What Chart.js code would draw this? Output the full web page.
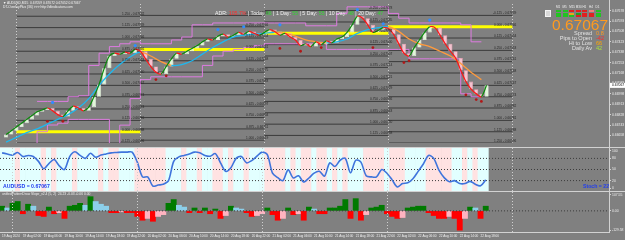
<!DOCTYPE html>
<html>
<head>
<meta charset="utf-8">
<title>AUDUSD M15</title>
<script src="https://cdn.jsdelivr.net/npm/chart.js@4.4.1/dist/chart.umd.min.js"></script>
<style>
  html, body { margin: 0; padding: 0; }
  body { width: 625px; height: 240px; background: #808080; position: relative; overflow: hidden;
         font-family: "Liberation Sans", Arial, sans-serif; }
  canvas { position: absolute; left: 0; }
  .t { position: absolute; white-space: nowrap; line-height: 1; }
  .sep { position: absolute; background: #d2d2d2; }
  .box { position: absolute; width: 5px; height: 2px; }
</style>
</head>
<body>
<canvas id="main" width="625" height="147" style="top:0"></canvas>
<canvas id="stoch" width="625" height="43" style="top:148px"></canvas>
<canvas id="hist" width="625" height="48" style="top:192px"></canvas>
<div class="sep" style="left:0;top:147px;width:625px;height:1px"></div>
<div class="sep" style="left:0;top:191px;width:625px;height:1px"></div>
<div class="sep" style="left:0;top:232px;width:610px;height:1px"></div>
<div class="sep" style="left:609px;top:0;width:1px;height:233px"></div>

<div class="t" style="left:3px;top:2px;font-size:3.3px;color:#f2f2f2">&#9660; AUDUSD,M15&nbsp; 0.67059 0.67072 0.67052 0.67067</div>
<div class="t" style="left:3px;top:6px;font-size:3.3px;color:#f2f2f2">DT-OverlayPlus (36) &gt;&gt;&gt; http://dtindicators.com</div>

<div class="t" style="left:215px;top:11px;font-size:5.2px;color:#f4f4f4">ADR: <span style="color:#ff2b2b">105.7%</span> | Today <span style="color:#2fd62f">66</span> | 1 Day: <span style="color:#2fd62f">55</span> | 5 Day: <span style="color:#2fd62f">55</span> | 10 Day: <span style="color:#2fd62f">48</span> | 20 Day: <span style="color:#2fd62f">47</span></div>

<div id="tfPanel"></div>
<div class="t" style="left:552px;top:17px;font-size:15.5px;color:#ff9a1f">0.67067</div>
<div class="t" style="right:33px;top:31px;font-size:5.6px;color:#e2e2e2;text-align:right;line-height:5px">Spread<br>Pips to Open<br>Hi to Low<br>Daily Av</div>
<div class="t" style="left:596px;top:31px;font-size:5.6px;line-height:5px"><span style="color:#ff9a1f">0.8</span><br><span style="color:#ff2a2a">-42</span><br><span style="color:#ffa500">66</span><br><span style="color:#a8e03a">42</span></div>

<div class="t" style="left:3px;top:184px;font-size:5.2px;font-weight:bold;color:#1f3cf0">AUDUSD = 0.67067</div>
<div class="t" style="left:583px;top:184px;font-size:5.2px;font-weight:bold;color:#1f3cf0">Stoch = 22</div>
<div class="t" style="left:2px;top:193px;font-size:3.3px;color:#ededed">unifiedPatternDraw Slope_v2.4 (5, 2)&nbsp; 24.23 -0.03 -0.06 0.00</div>

<script>
// time axis (one slot per hour)
const timeLabels = [
  '19 Aug 2024', '19 Aug 02:00', '19 Aug 06:00', '19 Aug 10:00', '19 Aug 14:00', '19 Aug 18:00',
  '19 Aug 22:00', '20 Aug 02:00', '20 Aug 06:00', '20 Aug 10:00', '20 Aug 14:00', '20 Aug 18:00',
  '20 Aug 22:00', '21 Aug 02:00', '21 Aug 06:00', '21 Aug 10:00', '21 Aug 14:00', '21 Aug 18:00',
  '21 Aug 22:00', '22 Aug 02:00', '22 Aug 06:00', '22 Aug 10:00', '22 Aug 14:00', '22 Aug 18:00'
];
const timeTickSlots = [0, 4, 8, 12, 16, 20, 24, 28, 32, 36, 40, 44, 48, 52, 56, 60, 64, 68, 72, 76, 80, 84, 88, 92];
const daySlots = [2, 26, 50, 74, 98];
const slotMin = -0.4;
const slotMax = 116.7;

// price
const priceMin = 0.66596;
const priceMax = 0.67732;
const priceTicks = [0.67678, 0.67593, 0.67508, 0.67423, 0.67338, 0.67253, 0.67168, 0.67083,
                    0.66998, 0.66913, 0.66828, 0.66743, 0.66658];
const firstOpen = 0.66640;
const closes = [
  0.66665, 0.66696, 0.66727, 0.66758, 0.66789, 0.66820, 0.66851, 0.66866, 0.66882, 0.66859,
  0.66828, 0.66812, 0.66859, 0.66897, 0.66882, 0.66859, 0.66889, 0.66974, 0.67075, 0.67206,
  0.67307, 0.67330, 0.67322, 0.67338, 0.67330, 0.67361, 0.67346, 0.67284, 0.67222, 0.67175,
  0.67160, 0.67222, 0.67284, 0.67330, 0.67322, 0.67346, 0.67369, 0.67392, 0.67423, 0.67446,
  0.67438, 0.67469, 0.67485, 0.67462, 0.67477, 0.67500, 0.67485, 0.67508, 0.67492, 0.67477,
  0.67500, 0.67523, 0.67508, 0.67477, 0.67492, 0.67462, 0.67438, 0.67392, 0.67407, 0.67384,
  0.67423, 0.67400, 0.67431, 0.67415, 0.67446, 0.67462, 0.67500, 0.67562, 0.67632, 0.67616,
  0.67562, 0.67500, 0.67516, 0.67539, 0.67531, 0.67485, 0.67407, 0.67330, 0.67307, 0.67376,
  0.67438, 0.67500, 0.67546, 0.67539, 0.67477, 0.67407, 0.67346, 0.67291, 0.67191, 0.67098,
  0.67036, 0.66998, 0.66974, 0.67067
];

// slow average, every second slot
const slowMa = [
  0.66603, 0.66642, 0.66681, 0.66712, 0.66750, 0.66789, 0.66828, 0.66882, 0.66959, 0.67067,
  0.67160, 0.67237, 0.67299, 0.67338, 0.67307, 0.67261, 0.67230, 0.67237, 0.67268, 0.67322,
  0.67376, 0.67423, 0.67462, 0.67477, 0.67485, 0.67492, 0.67500, 0.67492, 0.67469, 0.67438,
  0.67423, 0.67415, 0.67423, 0.67446, 0.67492, 0.67523, 0.67539, 0.67546, 0.67508, 0.67446,
  0.67407, 0.67384, 0.67346, 0.67307, 0.67245, 0.67175, 0.67114
];

// channel, every second slot
const bandUpper = [
  null, null, null, 0.66936, 0.66936, 0.66936, 0.66936, 0.66974, 0.66982, 0.67230,
  0.67330, 0.67384, 0.67407, 0.67423, 0.67407, 0.67407, 0.67407, 0.67438, 0.67462, 0.67562,
  0.67562, 0.67577, 0.67577, 0.67577, 0.67577, 0.67577, 0.67577, 0.67577, 0.67577, 0.67577,
  0.67554, 0.67554, 0.67554, 0.67655, 0.67709, 0.67709, 0.67709, 0.67709, 0.67655, 0.67616,
  0.67577, 0.67577, 0.67577, 0.67577, 0.67577, 0.67562, 0.67423
];
const bandLower = [
  null, null, null, 0.66588, 0.66688, 0.66743, 0.66758, 0.66789, 0.66789, 0.66789,
  0.66789, 0.66588, 0.66742, 0.66959, 0.67114, 0.67137, 0.67137, 0.67137, 0.67137, 0.67137,
  0.67230, 0.67307, 0.67346, 0.67361, 0.67376, 0.67392, 0.67407, 0.67407, 0.67407, 0.67407,
  0.67407, 0.67407, 0.67361, 0.67361, 0.67361, 0.67361, 0.67361, 0.67361, 0.67361, 0.67361,
  0.67284, 0.67284, 0.67284, 0.67284, 0.67284, 0.66998, 0.66974
];

// fractals
const upFractalSlots = [9, 25, 41, 46, 53, 68, 73, 82];
const upFractalPrices = [0.66928, 0.67392, 0.67523, 0.67546, 0.67562, 0.67686, 0.67570, 0.67601];
const downFractalSlots = [8, 11, 29, 31, 53, 57, 61, 71, 77, 78, 89, 91, 92];
const downFractalPrices = [0.66773, 0.66773, 0.67114, 0.67145, 0.67369, 0.67346, 0.67376, 0.67376,
                           0.67253, 0.67268, 0.66990, 0.66951, 0.66936];

// daily levels
const levelDayStart = [2, 26, 50, 74];
const levelDayEnd = [26, 50, 74, 98];
const levelRatios = [
  ['1.250', '1.125', '1.000', '0.875', '0.750', '0.625', '0.500', '0.375', '0.250', '0.125', '0.000', '-0.125'],
  ['-0.375', '-0.250', '-0.125', '0.000', '0.125', '0.250', '0.375', '0.500', '0.625', '0.750', '0.875', '1.000'],
  ['-0.250', '-0.125', '0.000', '0.125', '0.250', '0.375', '0.500', '0.625', '0.750', '0.875', '1.000', '1.125'],
  ['-0.125', '0.000', '0.125', '0.250', '0.375', '0.500', '0.625', '0.750', '0.875', '1.000', '1.125', '1.250']
];
const levelPrices = [
  [0.67632, 0.67539, 0.67446, 0.67346, 0.67253, 0.67160, 0.67067, 0.66974, 0.66874, 0.66781, 0.66688, 0.66596],
  [0.67639, 0.67546, 0.67454, 0.67361, 0.67268, 0.67175, 0.67083, 0.66990, 0.66897, 0.66804, 0.66711, 0.66619],
  [0.67678, 0.67585, 0.67492, 0.67400, 0.67307, 0.67214, 0.67121, 0.67029, 0.66936, 0.66843, 0.66750, 0.66658],
  [0.67639, 0.67546, 0.67454, 0.67353, 0.67261, 0.67168, 0.67067, 0.66974, 0.66882, 0.66781, 0.66688, 0.66596]
];

// stochastic
const stochMin = -8.1;
const stochMax = 108.1;
const stochTicks = [100, 80, 50, 20, 0];
const stochLevels = [80, 50, 20];
const stochValues = [
  95, 92, 89, 96, 85, 88, 85, 72, 52, 66,
  77, 60, 50, 85, 98, 88, 80, 94, 83, 89,
  92, 95, 96, 97, 97, 97, 70, 30, 30, 5,
  8, 10, 20, 72, 84, 88, 92, 97, 95, 88,
  86, 93, 68, 45, 55, 80, 85, 68, 74, 86,
  97, 90, 40, 28, 20, 49, 27, 33, 16, 27,
  40, 45, 32, 68, 58, 75, 80, 41, 75, 70,
  33, 30, 30, 50, 40, 22, 3, 12, 14, 25,
  45, 65, 88, 80, 48, 28, 17, 20, 12, 12,
  18, 10, 6, 22
];
const stochZone = [
  0, 0, 0, 1, 0, 0, 0, 0, 1, 0,
  1, 0, 0, 0, 1, 0, 0, 0, 0, 1,
  0, 1, 1, 0, 0, 0, 1, 1, 1, 1,
  1, 1, 0, 0, 0, 1, 0, 0, 1, 0,
  0, 1, 1, 0, 1, 0, 0, 1, 0, 0,
  0, 1, 1, 1, 1, 0, 1, 0, 1, 1,
  0, 1, 1, 0, 1, 0, 1, 0, 0, 0,
  1, 1, 1, 1, 0, 1, 1, 1, 0, 0,
  0, 0, 1, 1, 1, 1, 1, 0, 0, 1,
  0, 1, 0, 0
];

// histogram
const histMin = -140;
const histMax = 125;
const histTicks = [107.55, 0, -129.58];
const histValues = [
  31, 19, 50, 62, -19, 44, 31, -31, -37, 25,
  -19, -12, -50, 31, 37, 50, 37, 94, 62, 44,
  31, -12, -12, -6, -12, -12, -37, -62, -50, -69,
  -37, -25, 50, 75, 37, 25, -12, 19, -12, 19,
  -19, 12, -50, -31, 31, 19, 12, -12, -37, -31,
  -19, 19, -25, -62, -50, 19, -25, -19, -62, 25,
  12, -19, -19, 19, 19, 31, 75, -50, 81, -62,
  -25, 19, 25, 37, -19, -37, -50, -44, 19, 25,
  31, 31, -12, -31, -50, -50, -37, -50, -128, -50,
  25, 19, -50, 31
];

// timeframe panel
const tfNames = ['M1', 'M5', 'M15', 'M30', 'H1', 'H4', 'D1'];
const tfColors = [
  ['#22c322', '#22c322', '#22c322'],
  ['#22c322', '#22c322', '#22c322'],
  ['#e02020', '#f0a020', '#22c322'],
  ['#e02020', '#22a022', '#e02020'],
  ['#e02020', '#e02020', '#e02020'],
  ['#f08080', '#e02020', '#e02020'],
  ['#22c322', '#22c322', '#22c322']
];

const FONT = 'Liberation Sans';
const lastPrice = closes[closes.length - 1];

function buildTfPanel() {
  const panel = document.getElementById('tfPanel');
  const icon = document.createElement('div');
  icon.className = 'box';
  icon.style.cssText = 'left:545px;top:10px;width:6px;height:7px;background:#d8d8d8;border:1px solid #f4f4f4;box-sizing:border-box';
  panel.appendChild(icon);
  tfNames.forEach((name, i) => {
    const left = 556 + i * 6.6;
    const lbl = document.createElement('div');
    lbl.className = 't';
    lbl.style.cssText = `left:${left}px;top:6px;font-size:3px;color:#f0f0f0`;
    lbl.textContent = name;
    panel.appendChild(lbl);
    tfColors[i].forEach((c, r) => {
      const b = document.createElement('div');
      b.className = 'box';
      b.style.cssText = `left:${left}px;top:${10 + r * 2.5}px;background:${c}`;
      panel.appendChild(b);
    });
  });
}

function rightAxis(min, max, tickValues, fmt) {
  return {
    type: 'linear', position: 'right', min: min, max: max,
    afterBuildTicks: axis => { axis.ticks = tickValues.map(v => ({ value: v })); },
    afterFit: axis => { axis.width = 16; axis.paddingTop = 0; axis.paddingBottom = 0; },
    grid: { drawOnChartArea: false, drawTicks: true, tickLength: 2, color: '#d2d2d2' },
    border: { display: false },
    ticks: { color: '#ececec', font: { size: 3.4, family: FONT }, padding: 1, autoSkip: false, callback: fmt }
  };
}

function hiddenX() {
  return { type: 'linear', min: slotMin, max: slotMax, offset: false, display: false };
}

function daySeparators(phase) {
  const draw = chart => {
    const { ctx, chartArea, scales } = chart;
    ctx.save();
    ctx.strokeStyle = '#cfcfcf';
    ctx.lineWidth = 1;
    ctx.setLineDash([1, 2]);
    daySlots.forEach(s => {
      const x = Math.round(scales.x.getPixelForValue(s)) + 0.5;
      ctx.beginPath();
      ctx.moveTo(x, chartArea.top);
      ctx.lineTo(x, chartArea.bottom);
      ctx.stroke();
    });
    ctx.restore();
  };
  return phase === 'before' ? { id: 'daySep', beforeDatasetsDraw: draw } : { id: 'daySep', afterDatasetsDraw: draw };
}

const levelLabels = {
  id: 'levelLabels',
  afterDatasetsDraw(chart) {
    const { ctx, scales } = chart;
    ctx.save();
    ctx.font = `3.2px "${FONT}"`;
    ctx.fillStyle = '#262626';
    ctx.textAlign = 'right';
    ctx.textBaseline = 'bottom';
    levelPrices.forEach((prices, d) => {
      const x = scales.x.getPixelForValue(levelDayEnd[d]) + 4;
      prices.forEach((p, k) => {
        ctx.fillText(`${levelRatios[d][k]} - ${p.toFixed(5)}`, x, scales.y.getPixelForValue(p) - 0.5);
      });
    });
    ctx.restore();
  }
};

const priceTag = {
  id: 'priceTag',
  afterDraw(chart) {
    const { ctx, chartArea, scales } = chart;
    const y = scales.y.getPixelForValue(lastPrice);
    ctx.save();
    ctx.fillStyle = '#ffffff';
    ctx.fillRect(chartArea.right + 1, y - 2.5, 15, 5);
    ctx.fillStyle = '#000000';
    ctx.font = `3.4px "${FONT}"`;
    ctx.textBaseline = 'middle';
    ctx.fillText(lastPrice.toFixed(5), chartArea.right + 3, y);
    ctx.restore();
  }
};

const baseOptions = {
  responsive: false,
  animation: false,
  events: [],
  layout: { padding: 0 },
  plugins: { legend: { display: false }, tooltip: { enabled: false } }
};

function displayMainChart() {
  const datasets = [];

  levelPrices.forEach((prices, d) => {
    prices.forEach((p, k) => {
      const isBase = levelRatios[d][k] === '0.000';
      datasets.push({
        type: 'line',
        data: [{ x: levelDayStart[d], y: p }, { x: levelDayEnd[d], y: p }],
        borderColor: isBase ? '#ffff00' : '#3a3a3a',
        borderWidth: isBase ? 3 : 1,
        pointRadius: 0,
        order: isBase ? 9 : 10
      });
    });
  });

  datasets.push({
    type: 'line',
    data: bandUpper.map((v, i) => ({ x: i * 2, y: v })),
    borderColor: '#dd7be0', borderWidth: 1, pointRadius: 0, stepped: 'after', spanGaps: false, order: 6
  });
  datasets.push({
    type: 'line',
    data: bandLower.map((v, i) => ({ x: i * 2, y: v })),
    borderColor: '#dd7be0', borderWidth: 1, pointRadius: 0, stepped: 'after', spanGaps: false, order: 6
  });

  datasets.push({
    type: 'bar',
    data: closes.map((c, i) => ({ x: i, y: [i === 0 ? firstOpen : closes[i - 1], c] })),
    backgroundColor: closes.map((c, i) => c >= (i === 0 ? firstOpen : closes[i - 1]) ? '#e2f6da' : '#f4c2cf'),
    borderColor: closes.map((c, i) => c >= (i === 0 ? firstOpen : closes[i - 1]) ? '#f6fff2' : '#ff9db3'),
    borderWidth: 0.6,
    borderSkipped: false,
    barPercentage: 0.8,
    categoryPercentage: 1,
    grouped: false,
    order: 5
  });

  datasets.push({
    type: 'line',
    data: slowMa.map((v, i) => ({ x: i * 2, y: v })),
    borderWidth: 1.3, pointRadius: 0, tension: 0.3,
    segment: { borderColor: c => c.p1.parsed.y >= c.p0.parsed.y ? '#1cb8f0' : '#ff9a3c' },
    order: 4
  });

  datasets.push({
    type: 'line',
    data: closes.map((c, i) => ({ x: i, y: c })),
    borderWidth: 1.2, pointRadius: 0, tension: 0.3,
    segment: { borderColor: c => c.p1.parsed.y >= c.p0.parsed.y ? '#0a8a0a' : '#ff1414' },
    order: 3
  });

  datasets.push({
    type: 'scatter',
    data: upFractalSlots.map((s, i) => ({ x: s, y: upFractalPrices[i] })),
    backgroundColor: '#2f8cff', borderWidth: 0, pointRadius: 1.6, order: 1
  });
  datasets.push({
    type: 'scatter',
    data: downFractalSlots.map((s, i) => ({ x: s, y: downFractalPrices[i] })),
    backgroundColor: '#b01818', borderWidth: 0, pointRadius: 1.4, order: 1
  });

  new Chart(document.getElementById('main').getContext('2d'), {
    data: { datasets },
    options: {
      ...baseOptions,
      scales: {
        x: hiddenX(),
        y: rightAxis(priceMin, priceMax, priceTicks, v => v.toFixed(5))
      }
    },
    plugins: [daySeparators('before'), levelLabels, priceTag]
  });
}

function displayStochChart() {
  const datasets = [];
  datasets.push({
    type: 'line',
    data: stochValues.map((v, i) => ({ x: i, y: v })),
    borderColor: '#3f74dc', borderWidth: 1.6, pointRadius: 0, tension: 0.3, order: 1
  });
  stochLevels.forEach(l => {
    datasets.push({
      type: 'line',
      data: [{ x: slotMin, y: l }, { x: slotMax, y: l }],
      borderColor: '#3c3c3c', borderWidth: 1, borderDash: [1, 2], pointRadius: 0, order: 2
    });
  });
  datasets.push({
    type: 'bar',
    data: stochZone.map((z, i) => ({ x: i, y: [stochMin, stochMax] })),
    backgroundColor: stochZone.map(z => z ? '#ffe2e2' : '#e2ffff'),
    borderWidth: 0,
    barPercentage: 1,
    categoryPercentage: 1,
    grouped: false,
    order: 3
  });

  new Chart(document.getElementById('stoch').getContext('2d'), {
    data: { datasets },
    options: {
      ...baseOptions,
      scales: {
        x: hiddenX(),
        y: rightAxis(stochMin, stochMax, stochTicks, v => String(v))
      }
    },
    plugins: [daySeparators('after')]
  });
}

function displayHistChart() {
  const colors = histValues.map((v, i) => {
    const prev = i === 0 ? 0 : histValues[i - 1];
    if (v >= 0) return v >= prev ? '#007a00' : '#8ccfea';
    return v <= prev ? '#ff0000' : '#ffb3c0';
  });

  new Chart(document.getElementById('hist').getContext('2d'), {
    data: {
      datasets: [
        {
          type: 'line',
          data: [{ x: slotMin, y: 0 }, { x: slotMax, y: 0 }],
          borderColor: '#3c3c3c', borderWidth: 1, borderDash: [1, 2], pointRadius: 0, order: 1
        },
        {
          type: 'bar',
          data: histValues.map((v, i) => ({ x: i, y: v })),
          backgroundColor: colors,
          borderWidth: 0,
          barPercentage: 1,
          categoryPercentage: 1,
          grouped: false,
          order: 2
        }
      ]
    },
    options: {
      ...baseOptions,
      scales: {
        x: {
          type: 'linear', min: slotMin, max: slotMax, position: 'bottom', offset: false,
          afterBuildTicks: axis => { axis.ticks = timeTickSlots.map(v => ({ value: v })); },
          afterFit: axis => { axis.height = 8; axis.paddingLeft = 0; axis.paddingRight = 0; },
          grid: { display: true, drawOnChartArea: false, drawTicks: true, tickLength: 1, color: '#d2d2d2' },
          border: { display: false },
          ticks: {
            display: true,
            color: '#f0f0f0', font: { size: 3.1, family: FONT }, padding: 1.5, align: 'start',
            maxRotation: 0, minRotation: 0, autoSkip: false,
            callback: (v, i) => timeLabels[i]
          }
        },
        y: rightAxis(histMin, histMax, histTicks, v => v.toFixed(2))
      }
    },
    plugins: [daySeparators('after')]
  });
}

document.addEventListener('DOMContentLoaded', () => {
  buildTfPanel();
  displayMainChart();
  displayStochChart();
  displayHistChart();
});
</script>
</body>
</html>
